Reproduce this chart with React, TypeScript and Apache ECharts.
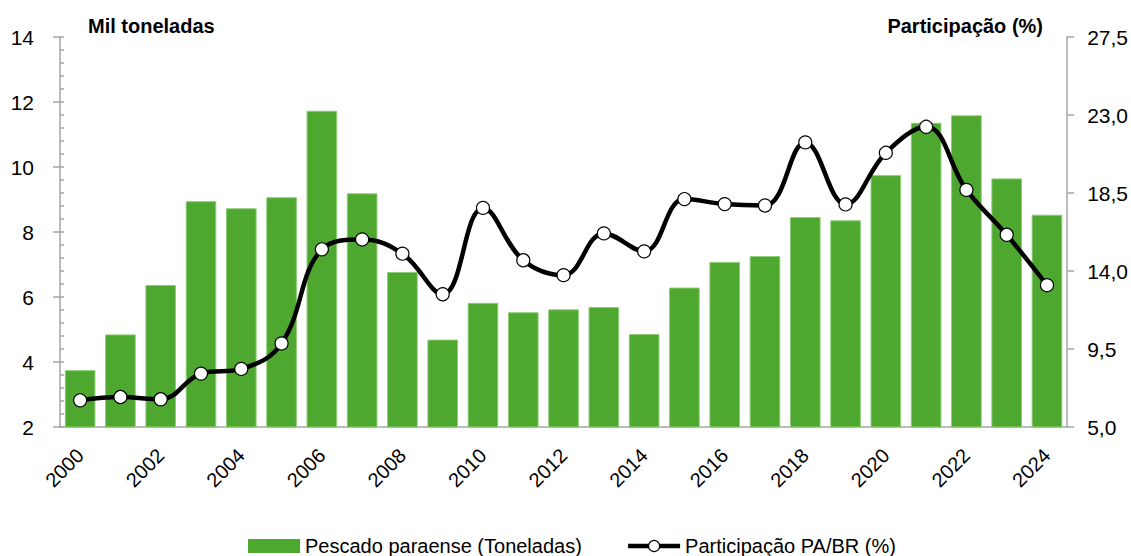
import React, { useEffect, useRef } from "react";
import * as echarts from "echarts";

const years = [
  "2000", "2001", "2002", "2003", "2004", "2005", "2006", "2007", "2008", "2009",
  "2010", "2011", "2012", "2013", "2014", "2015", "2016", "2017", "2018", "2019",
  "2020", "2021", "2022", "2023", "2024",
];
const pescado = [
  3.75, 4.85, 6.37, 8.95, 8.73, 9.07, 11.73, 9.19, 6.77, 4.69,
  5.82, 5.53, 5.62, 5.69, 4.86, 6.29, 7.08, 7.26, 8.46, 8.36,
  9.75, 11.36, 11.59, 9.65, 8.53,
];
const participacao = [
  6.54, 6.73, 6.6, 8.08, 8.35, 9.82, 15.25, 15.82, 15.0, 12.66,
  17.64, 14.62, 13.76, 16.17, 15.13, 18.15, 17.86, 17.78, 21.42, 17.84,
  20.82, 22.32, 18.68, 16.09, 13.18,
];
const barName = "Pescado paraense (Toneladas)";
const lineName = "Participação PA/BR (%)";
const leftTitle = "Mil toneladas";
const rightTitle = "Participação (%)";

const FONT = "'Liberation Sans', Arial, sans-serif";
const GRAY = "#a6a6a6";

export default function App() {
  const ref = useRef<HTMLDivElement>(null);
  useEffect(() => {
    if (!ref.current) return;
    const chart = echarts.init(ref.current, undefined, { renderer: "svg" });
    chart.setOption({
      animation: false,
      textStyle: { fontFamily: FONT, color: "#000" },
      grid: { left: 60, right: 63, top: 37, bottom: 129, containLabel: false },
      legend: {
        top: 531,
        left: 243,
        itemGap: 44,
        textStyle: { fontSize: 20, color: "#000", fontFamily: FONT },
        data: [
          { name: barName, icon: "rect", itemStyle: { borderWidth: 0 } },
          {
            name: lineName,
            lineStyle: { width: 4.5, color: "#000" },
            itemStyle: { color: "#fff", borderColor: "#000", borderWidth: 1.2 },
          },
        ],
        itemWidth: 52,
        itemHeight: 14,
      },
      graphic: [
        {
          type: "text",
          left: 88,
          top: 16,
          style: { text: leftTitle, font: `bold 20px ${FONT}`, fill: "#000" },
        },
        {
          type: "text",
          right: 1131 - 1043,
          top: 16,
          style: { text: rightTitle, font: `bold 20px ${FONT}`, fill: "#000" },
        },
      ],
      xAxis: {
        type: "category",
        data: years,
        boundaryGap: true,
        axisLine: { lineStyle: { color: GRAY, width: 1.5 } },
        axisTick: { interval: 0, length: 7, lineStyle: { color: GRAY, width: 1.5 } },
        axisLabel: {
          interval: 1,
          rotate: 45,
          fontSize: 20,
          margin: 25,
          color: "#000",
          fontFamily: FONT,
        },
      },
      yAxis: [
        {
          type: "value",
          min: 2,
          max: 14,
          interval: 2,
          position: "left",
          splitLine: { show: false },
          axisLine: { show: true, lineStyle: { color: GRAY, width: 1.5 } },
          axisTick: { show: true, inside: true, length: 4, lineStyle: { color: GRAY, width: 1.5 } },
          minorTick: { show: true, splitNumber: 5, length: 4, lineStyle: { color: GRAY, width: 1.5 } },
          axisLabel: { fontSize: 21, margin: 26, color: "#000", fontFamily: FONT },
        },
        {
          type: "value",
          min: 5,
          max: 27.5,
          interval: 4.5,
          position: "right",
          splitLine: { show: false },
          axisLine: { show: true, lineStyle: { color: GRAY, width: 1.5 } },
          axisTick: { show: true, length: 7, lineStyle: { color: GRAY, width: 1.5 } },
          axisLabel: {
            fontSize: 21,
            margin: 20,
            color: "#000",
            fontFamily: FONT,
            formatter: (v: number) => v.toFixed(1).replace(".", ","),
          },
        },
        {
          type: "value",
          min: 2,
          max: 14,
          interval: 2,
          position: "left",
          splitLine: { show: false },
          axisLine: { show: false },
          axisTick: { show: true, length: 7, lineStyle: { color: GRAY, width: 1.5 } },
          axisLabel: { show: false },
        },
      ],
      series: [
        {
          name: barName,
          type: "bar",
          yAxisIndex: 0,
          data: pescado,
          barCategoryGap: "24%",
          itemStyle: { color: "#4ea72e", borderColor: "#8ccc74", borderWidth: 1 },
        },
        {
          name: lineName,
          type: "line",
          yAxisIndex: 1,
          data: participacao,
          smooth: 0.4,
          symbol: "circle",
          symbolSize: 13,
          lineStyle: { color: "#000", width: 4.5 },
          itemStyle: { color: "#fff", borderColor: "#000", borderWidth: 1.2 },
          z: 5,
        },
      ],
    });
    return () => chart.dispose();
  }, []);
  return (
    <div
      ref={ref}
      style={{ position: "fixed", left: 0, top: 0, width: 1131, height: 556, background: "#fff" }}
    />
  );
}
